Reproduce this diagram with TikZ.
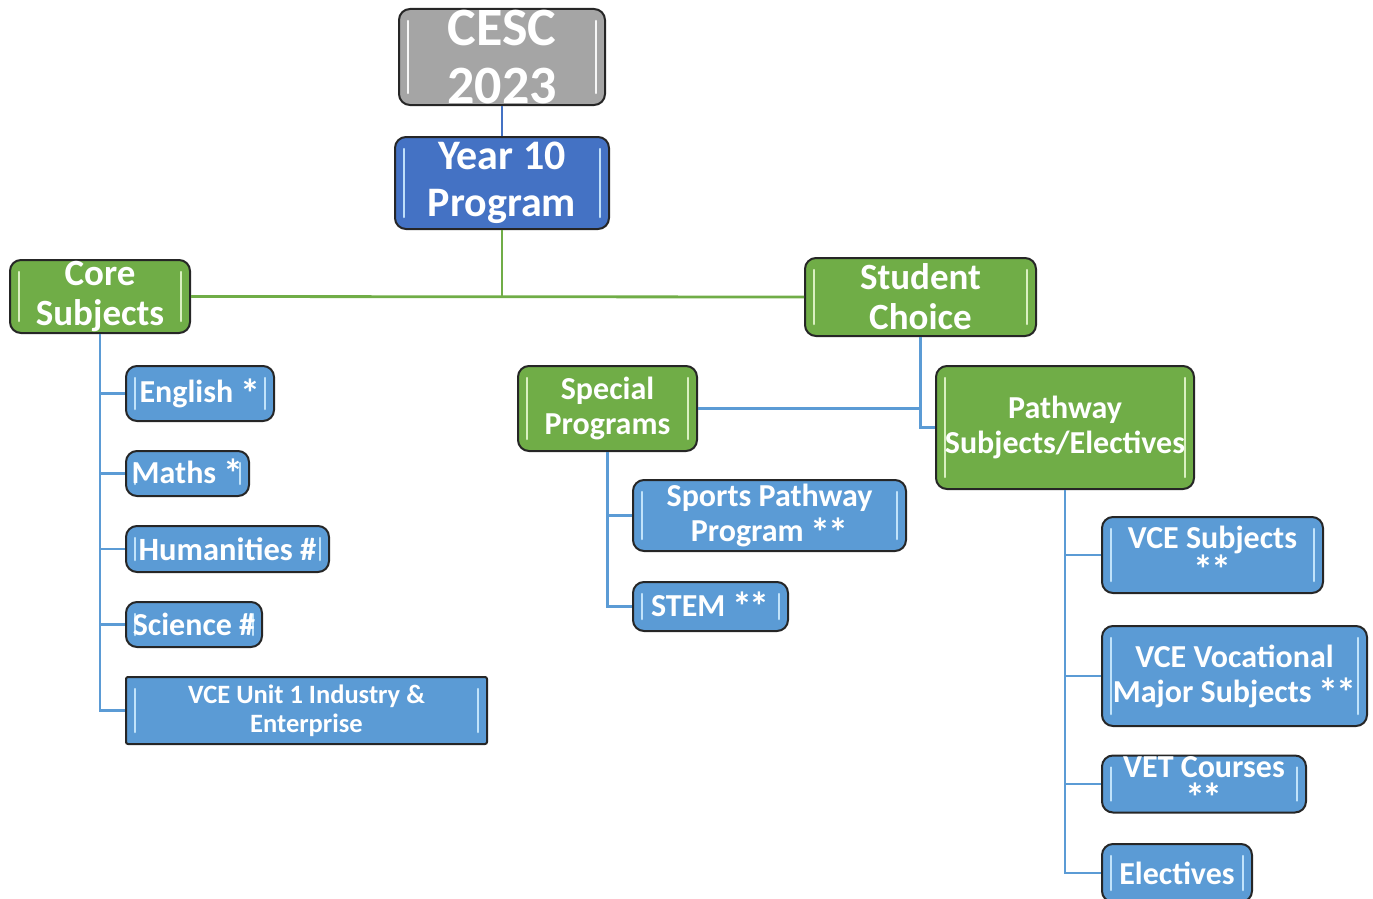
\documentclass[tikz,border=0pt]{standalone}
\usepackage{fontspec}
\usepackage{graphicx}
\setmainfont{Carlito}
\newcommand\stx{\raisebox{-0.14em}{\scalebox{1.25}{*}}}
\newcommand\stxx{\stx\kern-0.08em\stx}
\definecolor{cgray}{HTML}{A5A5A5}
\definecolor{cdblue}{HTML}{4472C4}
\definecolor{cgreen}{HTML}{70AD47}
\definecolor{clblue}{HTML}{5B9BD5}
\definecolor{hlblue}{HTML}{CDEBFF}
\definecolor{hlgreen}{HTML}{E6F8CF}
\begin{document}
\begin{tikzpicture}[x=1pt,y=-1pt,
  box/.style={draw=black!85,line width=2pt,rounded corners=11pt,text=white,align=center,
    font=\bfseries,inner sep=0pt,
    path picture={\draw[#1,line width=2.5pt,line cap=round,opacity=0.9]
       ([xshift=9pt,yshift=-12pt]path picture bounding box.north west) -- ([xshift=9pt,yshift=12pt]path picture bounding box.south west)
       ([xshift=-9pt,yshift=-12pt]path picture bounding box.north east) -- ([xshift=-9pt,yshift=12pt]path picture bounding box.south east);}},
  graybox/.style={box=white,fill=cgray},
  dbox/.style={box=hlblue,fill=cdblue},
  gbox/.style={box=hlgreen,fill=cgreen},
  bbox/.style={box=hlblue,fill=clblue},
  bline/.style={draw=clblue,line width=2.8pt},
  gline/.style={draw=cgreen,line width=2.8pt},
  dline/.style={draw=cdblue,line width=2.8pt}]
\useasboundingbox (0,0) rectangle (1373,899);
% nodes
\node[graybox,minimum width=206pt,minimum height=96pt,font=\bfseries\fontsize{54}{58}\selectfont] (cesc) at (502,57) {CESC\\2023};
\node[dbox,minimum width=214pt,minimum height=92pt,font=\bfseries\fontsize{42}{47}\selectfont] (year) at (502,183) {Year 10\\Program};
\node[gbox,minimum width=180pt,minimum height=73pt,font=\bfseries\fontsize{37}{40}\selectfont] (core) at (100,296.5) {Core\\Subjects};
\node[gbox,minimum width=231pt,minimum height=78pt,font=\bfseries\fontsize{37}{40}\selectfont] (choice) at (920.5,297) {Student\\Choice};
\node[bbox,minimum width=148pt,minimum height=55pt,font=\bfseries\fontsize{32}{36}\selectfont] (english) at (200,393.5) {English \stx};
\node[bbox,minimum width=123pt,minimum height=45pt,font=\bfseries\fontsize{32}{36}\selectfont] (maths) at (187.5,473.5) {Maths \stx};
\node[bbox,minimum width=203pt,minimum height=46pt,font=\bfseries\fontsize{32.5}{36}\selectfont] (hum) at (227.5,549) {Humanities \#};
\node[bbox,minimum width=136pt,minimum height=45pt,font=\bfseries\fontsize{32}{36}\selectfont] (sci) at (194,624.5) {Science \#};
\node[bbox,rounded corners=2pt,minimum width=361pt,minimum height=67pt,font=\bfseries\fontsize{26.5}{29}\selectfont] (vceu) at (306.5,710.5) {VCE Unit 1 Industry \&\\Enterprise};
\node[gbox,minimum width=179pt,minimum height=85pt,font=\bfseries\fontsize{32}{35}\selectfont] (special) at (607.5,408.5) {Special\\Programs};
\node[bbox,minimum width=273pt,minimum height=71pt,font=\bfseries\fontsize{32}{35}\selectfont] (sports) at (769.5,515.5) {Sports Pathway\\Program \stxx};
\node[bbox,minimum width=155pt,minimum height=49pt,font=\bfseries\fontsize{32}{35}\selectfont] (stem) at (710.5,606.5) {STEM \stxx};
\node[gbox,minimum width=258pt,minimum height=123pt,font=\bfseries\fontsize{32}{35}\selectfont] (pathway) at (1065,427.5) {Pathway\\Subjects/Electives};
\node[bbox,minimum width=221pt,minimum height=76pt,font=\bfseries\fontsize{32}{29}\selectfont] (vces) at (1212.5,555) {VCE Subjects\\\stxx};
\node[bbox,minimum width=265pt,minimum height=100pt,font=\bfseries\fontsize{32}{35}\selectfont] (vcev) at (1234.5,676) {VCE Vocational\\Major Subjects \stxx};
\node[bbox,minimum width=204pt,minimum height=57pt,font=\bfseries\fontsize{32}{30}\selectfont] (vet) at (1204,784) {VET Courses\\\stxx};
\node[bbox,minimum width=150pt,minimum height=58pt,font=\bfseries\fontsize{32}{36}\selectfont] (elect) at (1177,873) {Electives};
% connectors
\draw[dline] (cesc.south) -- (year.north);
\draw[gline] (year.south) -- (year.south |- core.east);
\draw[gline] (core.east) -- (choice.west);
\draw[bline] (core.south) |- (english.west);
\draw[bline] (core.south) |- (maths.west);
\draw[bline] (core.south) |- (hum.west);
\draw[bline] (core.south) |- (sci.west);
\draw[bline] (core.south) |- (vceu.west);
\draw[bline] (choice.south) |- (pathway.west);
\draw[bline] (special.east) -- (special.east -| choice.south);
\draw[bline] (special.south) |- (sports.west);
\draw[bline] (special.south) |- (stem.west);
\draw[bline] (pathway.south) |- (vces.west);
\draw[bline] (pathway.south) |- (vcev.west);
\draw[bline] (pathway.south) |- (vet.west);
\draw[bline] (pathway.south) |- (elect.west);
\end{tikzpicture}
\end{document}
